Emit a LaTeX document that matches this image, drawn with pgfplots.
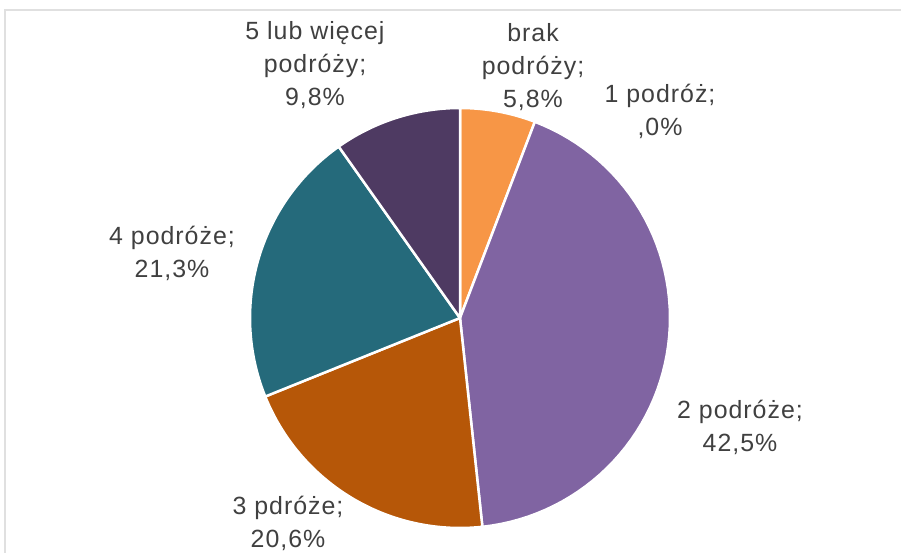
\documentclass[border=0pt]{standalone}
\usepackage{pgfplots}
\pgfplotsset{compat=1.18}
\usepackage{pgfplotstable}
\usepackage{fontspec}
\setmainfont{Liberation Sans}[LetterSpace=4]
\definecolor{cbrak}{HTML}{F79646}
\definecolor{ctwo}{HTML}{8064A2}
\definecolor{cthree}{HTML}{B65708}
\definecolor{cfour}{HTML}{256A7B}
\definecolor{cfive}{HTML}{4E3A62}
\definecolor{txt}{HTML}{404040}
\definecolor{frame}{HTML}{E0E0E0}

\pgfplotstableread{
idx value
0 5.8
1 0.0
2 42.5
3 20.6
4 21.3
5 9.8
}\piedata

\pgfplotstablegetelem{0}{value}\of\piedata \let\vA\pgfplotsretval
\pgfplotstablegetelem{1}{value}\of\piedata \let\vB\pgfplotsretval
\pgfplotstablegetelem{2}{value}\of\piedata \let\vC\pgfplotsretval
\pgfplotstablegetelem{3}{value}\of\piedata \let\vD\pgfplotsretval
\pgfplotstablegetelem{4}{value}\of\piedata \let\vE\pgfplotsretval
\pgfplotstablegetelem{5}{value}\of\piedata \let\vF\pgfplotsretval

\pgfmathsetmacro{\aA}{90}
\pgfmathsetmacro{\aB}{\aA-3.6*\vA}
\pgfmathsetmacro{\aC}{\aB-3.6*\vB}
\pgfmathsetmacro{\aD}{\aC-3.6*\vC}
\pgfmathsetmacro{\aE}{\aD-3.6*\vD}
\pgfmathsetmacro{\aF}{\aE-3.6*\vE}
\pgfmathsetmacro{\aG}{\aF-3.6*\vF}

\newcommand{\pcx}{460}
\newcommand{\pcy}{235}
\newcommand{\pr}{210}

\newcommand{\wedgeplot}[3]{%
  \addplot[fill=#1, draw=white, line width=2.5bp, line join=round,
    samples at={0,...,62}, variable=\t]
  ({ifthenelse(\t<0.5||\t>61.5, \pcx, \pcx+\pr*cos(#2+(#3-#2)*(\t-1)/60))},
   {ifthenelse(\t<0.5||\t>61.5, \pcy, \pcy+\pr*sin(#2+(#3-#2)*(\t-1)/60))});
}

\tikzset{lbl/.style={text=txt, align=center,
    font=\fontsize{25}{33}\selectfont, inner sep=0pt}}

\begin{document}
\begin{tikzpicture}
\useasboundingbox (0,0) rectangle (901bp,553bp);
\draw[frame, line width=1.5bp] (5bp,0) -- (5bp,543bp) -- (901bp,543bp);
\begin{axis}[
  at={(0,0)}, anchor=origin,
  x=1bp, y=1bp,
  xmin=0, xmax=901, ymin=0, ymax=553,
  axis lines=none, clip=false,
]
\wedgeplot{cbrak}{\aA}{\aB}
\wedgeplot{ctwo}{\aC}{\aD}
\wedgeplot{cthree}{\aD}{\aE}
\wedgeplot{cfour}{\aE}{\aF}
\wedgeplot{cfive}{\aF}{\aG}

\node[lbl] at (axis cs:315,488) {5 lub więcej\\podróży;\\9,8\%};
\node[lbl] at (axis cs:533,486) {brak\\podróży;\\5,8\%};
\node[lbl] at (axis cs:660,442) {1 podróż;\\,0\%};
\node[lbl] at (axis cs:740,126) {2 podróże;\\42,5\%};
\node[lbl] at (axis cs:288,30) {3 pdróże;\\20,6\%};
\node[lbl] at (axis cs:172,300) {4 podróże;\\21,3\%};
\end{axis}
\end{tikzpicture}
\end{document}
